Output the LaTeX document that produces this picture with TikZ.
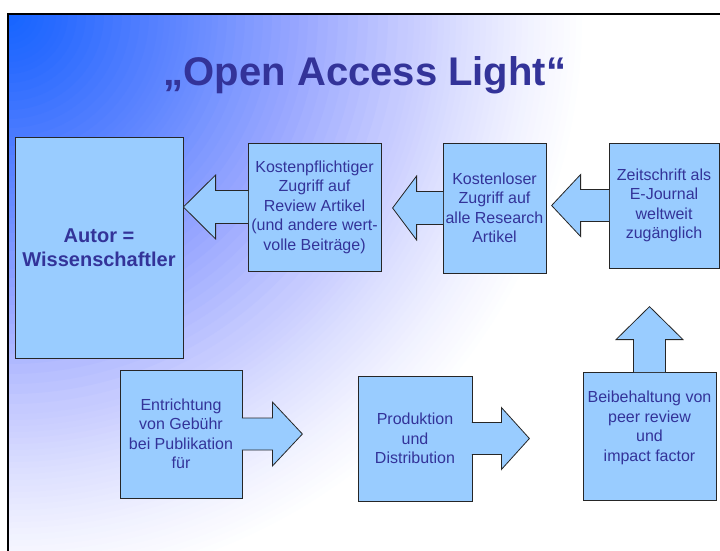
\documentclass[tikz,border=0pt]{standalone}
\usepackage{fontspec}
\setmainfont{Liberation Sans}
\usetikzlibrary{calc}

\definecolor{boxblue}{HTML}{99CCFF}
\definecolor{txtblue}{HTML}{333399}
\definecolor{bgA}{HTML}{1464FF}
\definecolor{bgB}{HTML}{2C6CFF}
\definecolor{bgC}{HTML}{5580FF}
\definecolor{bgD}{HTML}{7090FF}
\definecolor{bgE}{HTML}{9AA8FF}
\definecolor{bgF}{HTML}{C5CAFF}
\definecolor{bgG}{HTML}{DCDFFF}
\definecolor{bgH}{HTML}{F0F1FF}

\tikzset{
  kasten/.style={draw=black!85, line width=0.8pt, fill=boxblue, text=txtblue,
    inner sep=0pt, align=center, font=\fontsize{16}{19.5}\selectfont},
  pfeil/.style={fill=boxblue, draw=black!85, line width=0.8pt, line join=miter},
}

\begin{document}
\begin{tikzpicture}[x=1pt,y=-1pt]
\useasboundingbox (0,0) rectangle (720,550);

% background of the slide, from the upper left corner
\begin{scope}
  \clip (8,14) rectangle (740,570);
  \fill[white] (8,14) rectangle (740,570);
  \foreach \ra/\rb/\ca/\cb in {580/520/white/bgH, 520/460/bgH/bgG, 460/400/bgG/bgF,
      400/300/bgF/bgE, 300/210/bgE/bgD, 210/150/bgD/bgC, 150/60/bgC/bgB, 60/0/bgB/bgA}
    \foreach \f in {0,10,...,90}
      \fill[\cb!\f!\ca] (8,14) circle ({\ra-(\ra-\rb)*\f/100});
\end{scope}
\draw[line width=2pt] (8,14) rectangle (740,570);

\node[anchor=base, text=txtblue, font=\fontsize{40}{48}\selectfont\bfseries] (titel) at (365,85) {„Open Access Light“};

% boxes
\node[kasten, font=\fontsize{20}{24}\selectfont\bfseries, minimum width=168pt, minimum height=221pt] (autor) at (99,247.5) {Autor =\\Wissenschaftler};
\node[kasten, minimum width=133pt, minimum height=128pt] (kpz) at (314.5,207) {Kostenpflichtiger\\Zugriff auf\\Review Artikel\\(und andere wert-\\volle Beiträge)};
\node[kasten, minimum width=103pt, minimum height=130pt] (klz) at (494.5,208) {Kostenloser\\Zugriff auf\\alle Research\\Artikel};
\node[kasten, minimum width=110pt, minimum height=125pt] (zsz) at (664,205.5) {Zeitschrift als\\E-Journal\\weltweit\\zugänglich};
\node[kasten, minimum width=122pt, minimum height=128pt] (egz) at (181,434) {Entrichtung\\von Gebühr\\bei Publikation\\für};
\node[kasten, minimum width=114pt, minimum height=125pt] (pdz) at (415,438.5) {Produktion\\und\\Distribution};
\node[kasten, minimum width=133pt, minimum height=128pt] (bbz) at (649.5,436) {Beibehaltung von\\peer review\\und\\impact factor\\\mbox{}};

% arrows of the callouts
\path[pfeil] ($(kpz.west)+(0.5,-16.5)$) -- ($(kpz.west)+(-32,-16.5)$) -- ($(kpz.west)+(-32,-32)$)
  -- (autor.east |- kpz.west) -- ($(kpz.west)+(-32,32)$) -- ($(kpz.west)+(-32,16.5)$) -- ($(kpz.west)+(0.5,16.5)$);
\path[pfeil] ($(klz.west)+(0.5,-16.5)$) -- ($(klz.west)+(-26,-16.5)$) -- ($(klz.west)+(-26,-32)$)
  -- ($(klz.west)+(-50,0)$) -- ($(klz.west)+(-26,32)$) -- ($(klz.west)+(-26,16.5)$) -- ($(klz.west)+(0.5,16.5)$);
\path[pfeil] ($(zsz.west)+(0.5,-16)$) -- ($(zsz.west)+(-28,-16)$) -- ($(zsz.west)+(-28,-31)$)
  -- ($(zsz.west)+(-57,0)$) -- ($(zsz.west)+(-28,31)$) -- ($(zsz.west)+(-28,16)$) -- ($(zsz.west)+(0.5,16)$);

\path[pfeil] ($(egz.east)+(-0.5,-16)$) -- ($(egz.east)+(30,-16)$) -- ($(egz.east)+(30,-32)$)
  -- ($(egz.east)+(60,0)$) -- ($(egz.east)+(30,32)$) -- ($(egz.east)+(30,16)$) -- ($(egz.east)+(-0.5,16)$);
\path[pfeil] ($(pdz.east)+(-0.5,-16)$) -- ($(pdz.east)+(29,-16)$) -- ($(pdz.east)+(29,-31)$)
  -- ($(pdz.east)+(57,0)$) -- ($(pdz.east)+(29,31)$) -- ($(pdz.east)+(29,16)$) -- ($(pdz.east)+(-0.5,16)$);
\path[pfeil] ($(bbz.north)+(-16,0.5)$) -- ($(bbz.north)+(-16,-32)$) -- ($(bbz.north)+(-33.5,-32)$)
  -- ($(bbz.north)+(0,-65)$) -- ($(bbz.north)+(33.5,-32)$) -- ($(bbz.north)+(16,-32)$) -- ($(bbz.north)+(16,0.5)$);

\end{tikzpicture}
\end{document}
